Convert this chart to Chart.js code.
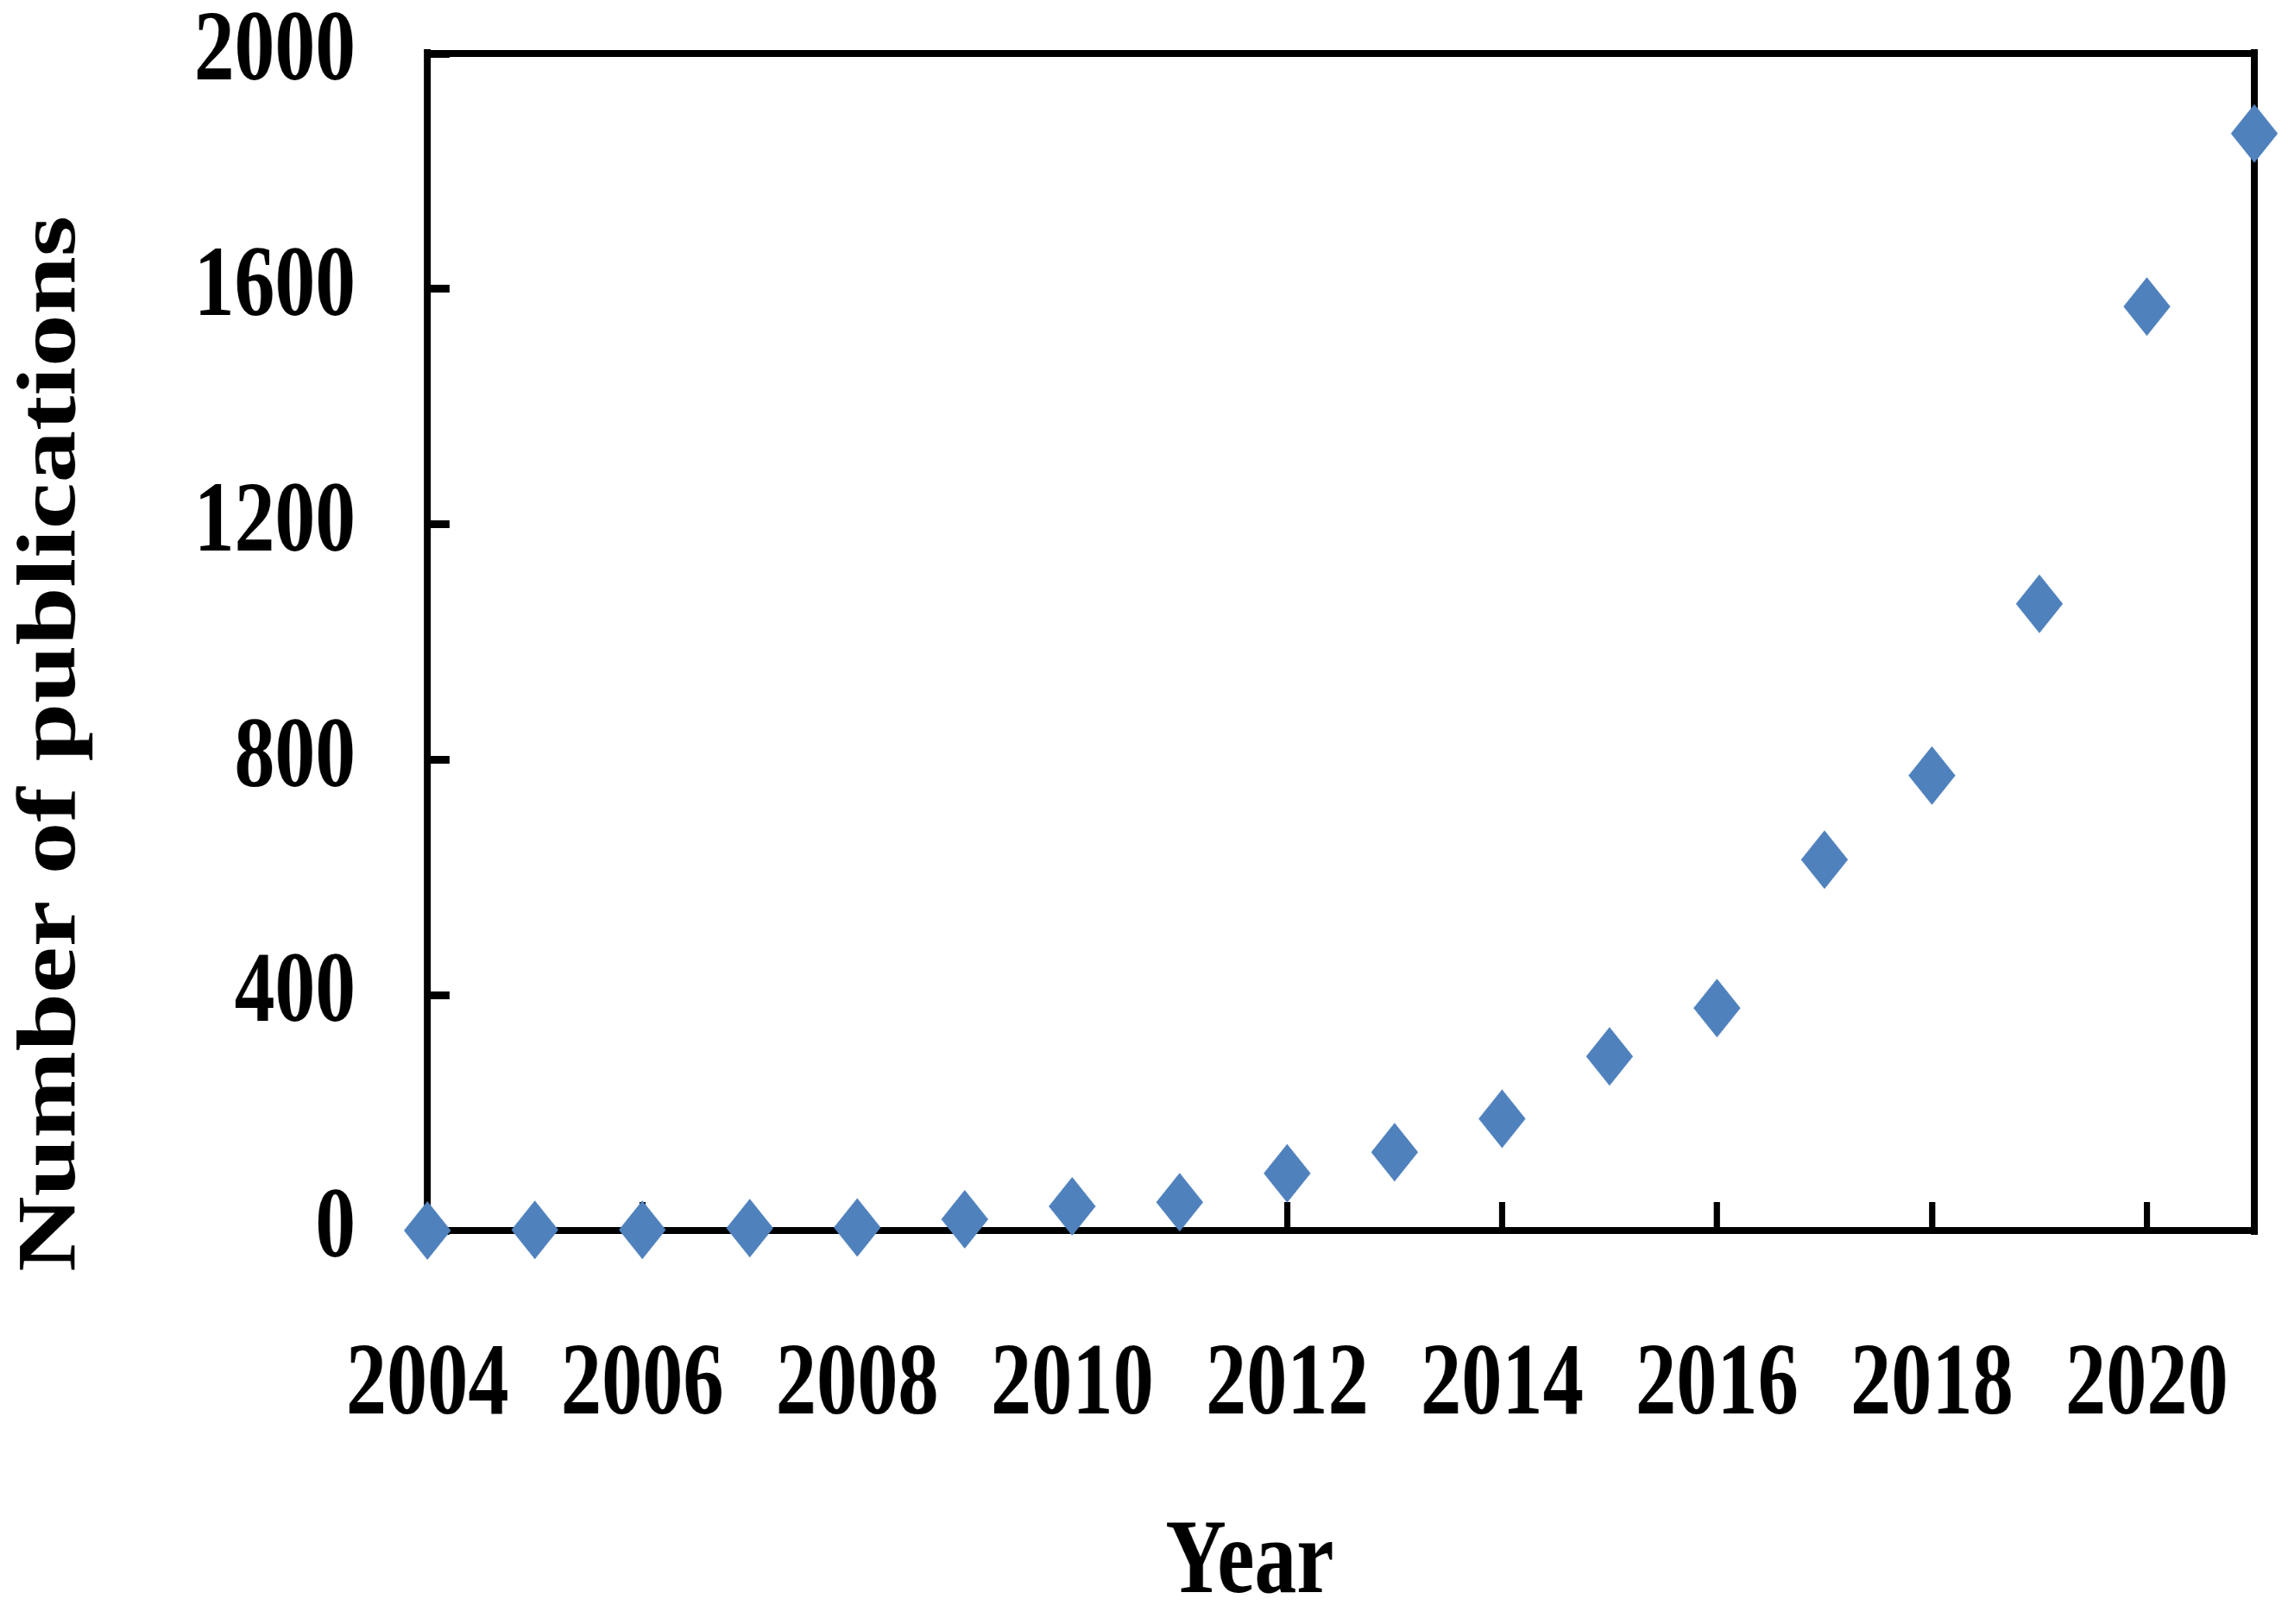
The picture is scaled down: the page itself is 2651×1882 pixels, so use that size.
<!DOCTYPE html>
<html>
<head>
<meta charset="utf-8">
<title>Number of publications per year</title>
<script src="https://cdn.jsdelivr.net/npm/chart.js@4.4.1/dist/chart.umd.min.js"></script>
<style>
  html, body { margin: 0; padding: 0; background: #fff; overflow: hidden; }
  /* the source figure is squeezed horizontally, so the chart is drawn wide and scaled back */
  #chart { display: block; transform: scaleX(0.8); transform-origin: 0 0; }
</style>
</head>
<body>
<canvas id="chart" width="3314" height="1882"></canvas>
<script>
// Data
const years = [2004, 2005, 2006, 2007, 2008, 2009, 2010, 2011, 2012, 2013, 2014, 2015, 2016, 2017, 2018, 2019, 2020, 2021];
const publications = [0, 1, 1, 4, 5, 19, 41, 48, 97, 133, 190, 296, 378, 630, 773, 1065, 1570, 1864];

// Axis ticks and titles
const xTickValues = [2004, 2006, 2008, 2010, 2012, 2014, 2016, 2018, 2020];
const yTickValues = [0, 400, 800, 1200, 1600, 2000];
const xTitle = 'Year';
const yTitle = 'Number of publications';

const FONT_FAMILY = "'Liberation Serif', 'Times New Roman', serif";
const MARKER_COLOR = '#4F81BD';

// Top and right sides of the plot frame
const framePlugin = {
  id: 'frame',
  beforeDatasetsDraw(chart) {
    const { ctx, chartArea: a } = chart;
    ctx.save();
    ctx.strokeStyle = '#000';
    ctx.lineCap = 'square';
    ctx.lineWidth = 8;
    ctx.beginPath();
    ctx.moveTo(a.left, a.top);
    ctx.lineTo(a.right, a.top);
    ctx.stroke();
    ctx.lineWidth = 10;
    ctx.beginPath();
    ctx.moveTo(a.right, a.top);
    ctx.lineTo(a.right, a.bottom);
    ctx.stroke();
    ctx.restore();
  },
  afterDraw(chart) {
    // Axis titles, placed like the original (not centred on the axes)
    const { ctx, chartArea: a } = chart;
    ctx.save();
    ctx.fillStyle = '#000';
    ctx.textAlign = 'center';
    ctx.textBaseline = 'middle';
    ctx.font = `bold 122px ${FONT_FAMILY}`;
    ctx.fillText(xTitle, (a.left + a.right) / 2 - 132, a.bottom + 387);
    ctx.translate(77, (a.top + a.bottom) / 2 + 118);
    ctx.rotate(-Math.PI / 2);
    ctx.font = `bold 121px ${FONT_FAMILY}`;
    ctx.fillText(yTitle, 0, 0);
    ctx.restore();
  },
};

// keep the big tick padding from pushing the plot area inwards
function fixScaleSize(scale, size) {
  if (scale.isHorizontal()) {
    scale.height = size;
  } else {
    scale.width = size;
  }
  scale.paddingTop = 0;
  scale.paddingBottom = 0;
  scale.paddingLeft = 0;
  scale.paddingRight = 0;
}

const ctx = document.getElementById('chart').getContext('2d');

new Chart(ctx, {
  type: 'scatter',
  data: {
    datasets: [{
      label: yTitle,
      data: years.map((y, i) => ({ x: y, y: publications[i] })),
      pointStyle: 'rectRot',
      pointRadius: 34,
      pointHoverRadius: 34,
      backgroundColor: MARKER_COLOR,
      borderColor: MARKER_COLOR,
      borderWidth: 0,
      clip: false,
    }],
  },
  options: {
    responsive: false,
    animation: false,
    devicePixelRatio: 1,
    layout: {
      padding: { top: 62, right: 49, left: 0, bottom: 0 },
    },
    plugins: {
      legend: { display: false },
      tooltip: { enabled: false },
    },
    scales: {
      x: {
        type: 'linear',
        position: 'bottom',
        min: 2004,
        max: 2021,
        afterBuildTicks: (scale) => {
          scale.ticks = xTickValues.map(v => ({ value: v }));
        },
        afterFit: (scale) => fixScaleSize(scale, 456),
        border: { display: true, color: '#000', width: 8 },
        grid: {
          display: true,
          drawOnChartArea: false,
          drawTicks: true,
          tickLength: -33,
          tickWidth: 9,
          tickColor: '#000',
        },
        ticks: {
          autoSkip: false,
          maxRotation: 0,
          padding: 156,
          color: '#000',
          font: { family: FONT_FAMILY, size: 118, weight: 'bold', lineHeight: 1 },
          callback: (value) => String(value),
        },
      },
      y: {
        min: 0,
        max: 2000,
        afterBuildTicks: (scale) => {
          scale.ticks = yTickValues.map(v => ({ value: v }));
        },
        afterFit: (scale) => fixScaleSize(scale, 619),
        border: { display: true, color: '#000', width: 10 },
        grid: {
          display: true,
          drawOnChartArea: false,
          drawTicks: true,
          tickLength: -32,
          tickWidth: 9,
          tickColor: '#000',
        },
        ticks: {
          padding: 136,
          color: '#000',
          font: { family: FONT_FAMILY, size: 117, weight: 'bold', lineHeight: 1 },
          callback: (value) => String(value),
        },
      },
    },
  },
  plugins: [framePlugin],
});
</script>
</body>
</html>
